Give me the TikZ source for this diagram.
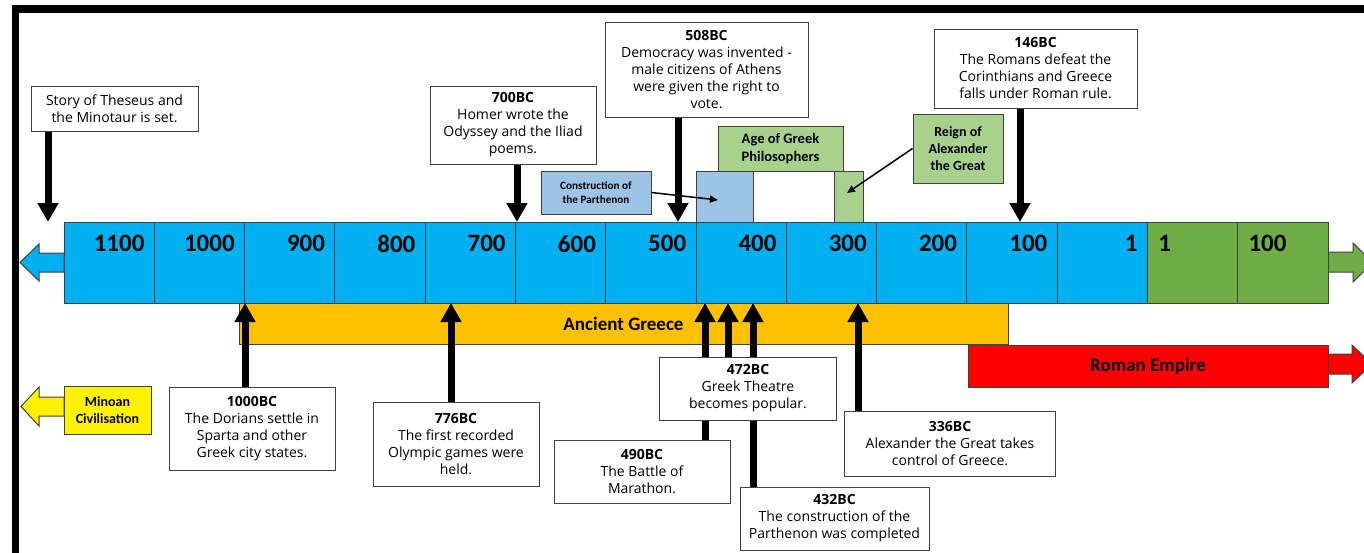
\documentclass[tikz,border=0pt]{standalone}
\usepackage{fontspec}
\setmainfont{Open Sans}
\newfontfamily\labfont{Carlito}
\usetikzlibrary{arrows.meta}

\definecolor{tlblue}{HTML}{00B0F0}
\definecolor{tlgreen}{HTML}{70AD47}
\definecolor{greekorange}{HTML}{FFC000}
\definecolor{paleblue}{HTML}{9DC3E6}
\definecolor{palegreen}{HTML}{A9D18E}
\definecolor{edge}{HTML}{404040}

\tikzset{
  cell/.style={draw=edge, line width=0.8pt, minimum width=90.3pt, minimum height=81pt, inner sep=0pt},
  bluecell/.style={cell, fill=tlblue},
  greencell/.style={cell, fill=tlgreen},
  yearlab/.style={font=\labfont\bfseries\fontsize{25}{30}\selectfont, inner sep=0pt},
  evbox/.style={draw=edge, line width=1pt, fill=white, align=center, inner sep=0pt, font=\fontsize{14}{17}\selectfont},
  tagbox/.style={draw=edge, line width=1pt, align=center, inner sep=0pt, font=\labfont\bfseries\fontsize{14}{17}\selectfont},
  spanbox/.style={draw=edge, line width=1pt, inner sep=0pt},
  blockarrow/.style={draw=edge, line width=1pt},
  evarrow/.style={line width=7pt, -{Triangle[width=20pt,length=19pt]}},
  thinarrow/.style={line width=1.5pt, -{Triangle[width=7pt,length=8pt]}}
}

\begin{document}
\begin{tikzpicture}[x=1pt, y=-1pt]
    \useasboundingbox (0,0) rectangle (1364,552);
    \clip (0,0) rectangle (1364,552);
    \draw[line width=7.5pt] (15.5,8.8) rectangle (1420,620);

    \draw[blockarrow, fill=tlblue] (64,253) -- (39,253) -- (39,244) -- (20,262.5) -- (39,281) -- (39,272) -- (64,272) -- cycle;
    \draw[blockarrow, fill=tlgreen] (1328,252) -- (1353,252) -- (1353,243) -- (1373,262.5) -- (1353,282) -- (1353,272) -- (1328,272) -- cycle;
    \draw[blockarrow, fill=red] (1328,354) -- (1352,354) -- (1352,345) -- (1372,364) -- (1352,383) -- (1352,374) -- (1328,374) -- cycle;
    \draw[blockarrow, fill=yellow] (64,397) -- (39,397) -- (39,387) -- (21,406.5) -- (39,426) -- (39,416) -- (64,416) -- cycle;

    \node[bluecell, label={[yearlab, anchor=east, xshift=-10pt, yshift=-22pt]north east:1100}] (c1) at (109.1,262.5) {};
    \node[bluecell, label={[yearlab, anchor=east, xshift=-10pt, yshift=-22pt]north east:1000}] (c2) at (199.4,262.5) {};
    \node[bluecell, label={[yearlab, anchor=east, xshift=-10pt, yshift=-22pt]north east:900}] (c3) at (289.7,262.5) {};
    \node[bluecell, label={[yearlab, anchor=east, xshift=-10pt, yshift=-22pt]north east:800}] (c4) at (380.0,262.5) {};
    \node[bluecell, label={[yearlab, anchor=east, xshift=-10pt, yshift=-22pt]north east:700}] (c5) at (470.3,262.5) {};
    \node[bluecell, label={[yearlab, anchor=east, xshift=-10pt, yshift=-22pt]north east:600}] (c6) at (560.6,262.5) {};
    \node[bluecell, label={[yearlab, anchor=east, xshift=-10pt, yshift=-22pt]north east:500}] (c7) at (650.9,262.5) {};
    \node[bluecell, label={[yearlab, anchor=east, xshift=-10pt, yshift=-22pt]north east:400}] (c8) at (741.2,262.5) {};
    \node[bluecell, label={[yearlab, anchor=east, xshift=-10pt, yshift=-22pt]north east:300}] (c9) at (831.4,262.5) {};
    \node[bluecell, label={[yearlab, anchor=east, xshift=-10pt, yshift=-22pt]north east:200}] (c10) at (921.7,262.5) {};
    \node[bluecell, label={[yearlab, anchor=east, xshift=-10pt, yshift=-22pt]north east:100}] (c11) at (1012.0,262.5) {};
    \node[bluecell, label={[yearlab, anchor=east, xshift=-10pt, yshift=-22pt]north east:1}] (c12) at (1102.3,262.5) {};
    \node[greencell, label={[yearlab, anchor=west, xshift=11pt, yshift=-22pt]north west:1}] (c13) at (1192.6,262.5) {};
    \node[greencell, label={[yearlab, anchor=west, xshift=11pt, yshift=-22pt]north west:100}] (c14) at (1282.9,262.5) {};

    \node[spanbox, fill=greekorange, minimum width=769pt, minimum height=41pt, font=\labfont\bfseries\fontsize{19}{23}\selectfont] (greece) at (623.5,323.5) {Ancient Greece};
    \node[spanbox, fill=red, minimum width=360pt, minimum height=42pt, font=\labfont\bfseries\fontsize{19}{23}\selectfont] (rome) at (1148,366) {Roman Empire};
    \node[spanbox, fill=paleblue, minimum width=57pt, minimum height=51pt] (pspan) at (724.5,196.5) {};
    \node[spanbox, fill=palegreen, minimum width=29pt, minimum height=51pt] (aspan) at (848.5,196.5) {};

    \node[tagbox, fill=yellow, minimum width=87pt, minimum height=48pt] (minoan) at (107.5,410) {Minoan\\Civilisation};
    \node[tagbox, fill=paleblue, minimum width=110pt, minimum height=43pt, font=\labfont\bfseries\fontsize{11.2}{13.7}\selectfont] (constr) at (596,192.5) {Construction of\\the Parthenon};
    \node[tagbox, fill=palegreen, minimum width=125pt, minimum height=45pt, font=\labfont\bfseries\fontsize{14.5}{18}\selectfont] (philos) at (780.5,148.5) {Age of Greek\\Philosophers};
    \node[tagbox, fill=palegreen, minimum width=90pt, minimum height=69pt] (reign) at (958,148.5) {Reign of\\Alexander\\the Great};

    \coordinate (pspot) at (718,200);
    \coordinate (aspot) at (847,193);
    \draw[thinarrow] (constr.east) -- (pspot);
    \draw[thinarrow] (reign.west) -- (aspot);

    \coordinate (tThes) at (48,222);
    \coordinate (tHomer) at (517,222);
    \coordinate (tDemoc) at (678,222);
    \coordinate (tRom) at (1020,222);
    \coordinate (tDor) at (245,303);
    \coordinate (tOly) at (451,303);
    \coordinate (tMar) at (705,303);
    \coordinate (tThe) at (728,303);
    \coordinate (tPar) at (753,303);
    \coordinate (tAlex) at (858,303);

    \node[evbox, minimum width=167pt, minimum height=45pt] (theseus) at (114.5,108.5) {Story of Theseus and\\the Minotaur is set.};
    \node[evbox, minimum width=166pt, minimum height=78pt] (homer) at (513,125) {\textbf{700BC}\\Homer wrote the\\Odyssey and the Iliad\\poems.};
    \node[evbox, minimum width=203pt, minimum height=95pt] (democ) at (706.5,69.5) {\textbf{508BC}\\Democracy was invented -\\male citizens of Athens\\were given the right to\\vote.};
    \node[evbox, minimum width=203pt, minimum height=79pt] (romans) at (1035.5,68.5) {\textbf{146BC}\\The Romans defeat the\\Corinthians and Greece\\falls under Roman rule.};

    \draw[evarrow] (theseus.south -| tThes) -- (tThes);
    \draw[evarrow] (homer.south -| tHomer) -- (tHomer);
    \draw[evarrow] (democ.south -| tDemoc) -- (tDemoc);
    \draw[evarrow] (romans.south -| tRom) -- (tRom);

    \draw[evarrow] (tDor |- 387,387) -- (tDor);
    \draw[evarrow] (tOly |- 402,402) -- (tOly);
    \draw[evarrow] (tMar |- 440,440) -- (tMar);
    \draw[evarrow] (tThe |- 357,357) -- (tThe);
    \draw[evarrow] (tPar |- 487,487) -- (tPar);
    \draw[evarrow] (tAlex |- 411,411) -- (tAlex);

    \node[evbox, minimum width=166pt, minimum height=83.5pt] (dorians) at (252,429) {\textbf{1000BC}\\The Dorians settle in\\Sparta and other\\Greek city states.};
    \node[evbox, minimum width=166pt, minimum height=84pt] (olympic) at (456,444) {\textbf{776BC}\\The first recorded\\Olympic games were\\held.};
    \node[evbox, minimum width=176.5pt, minimum height=63pt] (theatre) at (748,388.5) {\textbf{472BC}\\Greek Theatre\\becomes popular.};
    \node[evbox, minimum width=176pt, minimum height=63pt] (marathon) at (642,472) {\textbf{490BC}\\The Battle of\\Marathon.};
    \node[evbox, minimum width=189pt, minimum height=63pt] (parthenon) at (834.5,518.5) {\textbf{432BC}\\The construction of the\\Parthenon was completed};
    \node[evbox, minimum width=211.5pt, minimum height=64.5pt] (alexander) at (950,443.8) {\textbf{336BC}\\Alexander the Great takes\\control of Greece.};
\end{tikzpicture}
\end{document}
